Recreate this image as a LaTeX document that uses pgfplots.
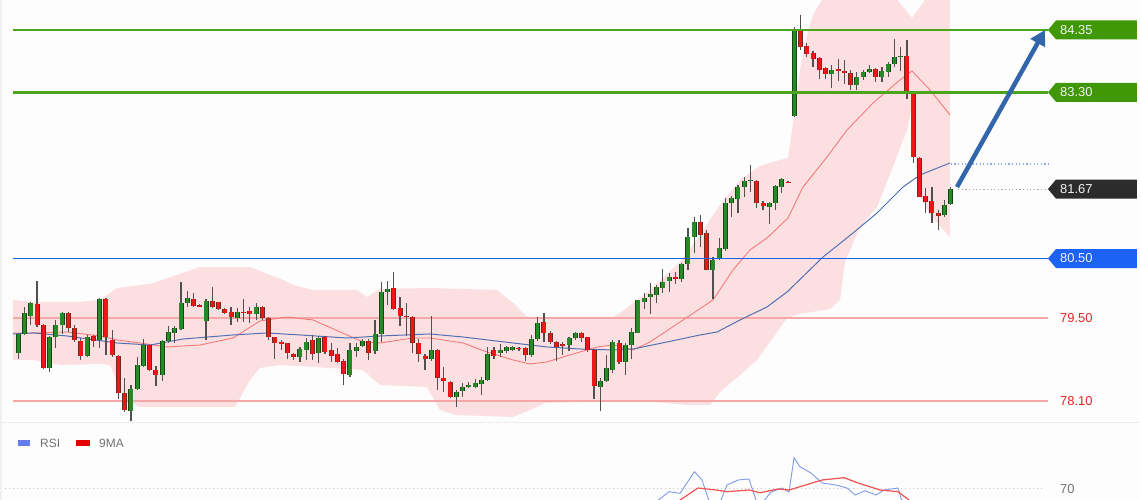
\documentclass[border=0pt]{standalone}
\usepackage{fontspec}
\setmainfont{Liberation Sans}
\usepackage{pgfplots}
\pgfplotsset{compat=1.18}
\usepackage{pgfplotstable}
\usetikzlibrary{arrows.meta}

\definecolor{cgreen}{RGB}{38,138,38}
\definecolor{cgreenD}{RGB}{22,72,22}
\definecolor{cred}{RGB}{240,22,22}
\definecolor{credD}{RGB}{110,40,40}
\definecolor{cwick}{RGB}{80,80,80}
\definecolor{bandpink}{RGB}{252,224,225}
\definecolor{maRed}{RGB}{244,122,122}
\definecolor{maBlue}{RGB}{82,112,178}
\definecolor{lvGreen}{RGB}{76,166,28}
\definecolor{tagGreen}{RGB}{64,152,6}
\definecolor{lvBlue}{RGB}{30,96,240}
\definecolor{tagBlue}{RGB}{28,98,245}
\definecolor{lvRed}{RGB}{246,168,168}
\definecolor{txtRed}{RGB}{232,36,36}
\definecolor{tagDark}{RGB}{44,44,44}
\definecolor{arrBlue}{RGB}{50,102,170}
\definecolor{rsiBlue}{RGB}{125,155,232}
\definecolor{rsiRed}{RGB}{240,82,82}
\definecolor{bg}{RGB}{253,253,253}
\definecolor{txtGray}{RGB}{115,115,115}

\pgfplotstableread{
i o h l c
0 78.914 79.251 78.802 79.228
1 79.228 79.689 79.212 79.577
2 79.532 79.773 79.380 79.745
3 79.728 80.127 79.352 79.380
4 79.380 79.390 78.633 78.650
5 78.650 79.195 78.594 79.184
6 79.172 79.464 78.987 79.380
7 79.380 79.605 79.228 79.588
8 79.588 79.605 79.268 79.324
9 79.324 79.380 79.099 79.127
10 79.116 79.155 78.790 78.863
11 78.863 79.212 78.847 79.172
12 79.195 79.212 79.004 79.116
13 79.127 79.829 78.987 79.812
14 79.812 79.829 78.875 79.184
15 79.127 79.296 78.847 78.875
16 78.858 78.875 78.128 78.229
17 78.229 78.482 77.920 77.948
18 77.937 78.369 77.769 78.296
19 78.296 78.847 78.285 78.706
20 78.689 79.139 78.667 79.043
21 79.043 79.050 78.611 78.622
22 78.622 78.689 78.353 78.538
23 78.538 79.127 78.442 79.111
24 79.111 79.363 79.082 79.268
25 79.251 79.363 79.071 79.324
26 79.307 80.110 79.300 79.756
27 79.756 79.958 79.678 79.829
28 79.812 79.913 79.678 79.700
29 79.720 79.730 79.680 79.690
30 79.447 79.812 79.127 79.784
31 79.790 80.026 79.661 79.689
32 79.762 79.773 79.633 79.644
33 79.644 79.661 79.565 79.588
34 79.605 79.689 79.380 79.509
35 79.492 79.661 79.436 79.605
36 79.605 79.812 79.436 79.580
37 79.622 79.689 79.408 79.565
38 79.565 79.745 79.464 79.678
39 79.689 79.700 79.464 79.492
40 79.492 79.509 79.127 79.172
41 79.172 79.184 78.802 79.082
42 79.099 79.127 78.959 79.060
43 79.071 79.071 78.802 78.914
44 78.892 78.914 78.790 78.847
45 78.847 79.015 78.762 78.970
46 78.959 79.155 78.790 79.099
47 79.127 79.212 78.790 78.892
48 78.903 79.195 78.734 79.155
49 79.172 79.195 78.892 78.931
50 78.959 79.071 78.762 78.858
51 78.886 78.987 78.734 78.762
52 78.779 78.802 78.369 78.555
53 78.538 79.082 78.510 78.959
54 78.948 79.071 78.847 79.015
55 79.026 79.139 79.004 79.111
56 79.116 79.139 78.790 78.914
57 78.948 79.464 78.892 79.228
58 79.228 80.110 79.099 79.942
59 79.936 80.127 79.717 79.981
60 79.998 80.278 79.633 79.644
61 79.661 79.846 79.363 79.532
62 79.535 79.756 79.195 79.509
63 79.520 79.532 78.914 79.071
64 79.071 79.139 78.762 78.886
65 78.858 78.892 78.622 78.802
66 78.802 79.532 78.779 78.959
67 78.959 78.970 78.285 78.482
68 78.482 78.667 78.257 78.442
69 78.426 78.442 78.145 78.162
70 78.162 78.285 78.004 78.257
71 78.268 78.409 78.173 78.341
72 78.341 78.426 78.313 78.369
73 78.330 78.465 78.313 78.397
74 78.386 78.510 78.201 78.454
75 78.454 79.015 78.442 78.892
76 78.959 79.004 78.802 78.858
77 78.903 79.060 78.847 78.959
78 78.948 79.026 78.903 79.004
79 78.959 79.026 78.948 79.004
80 78.998 79.015 78.948 78.970
81 78.987 79.015 78.779 78.875
82 78.875 79.212 78.847 79.139
83 79.139 79.520 79.116 79.419
84 79.436 79.577 79.099 79.251
85 79.251 79.285 79.060 79.099
86 79.099 79.116 78.779 79.004
87 79.060 79.099 78.875 79.026
88 79.043 79.172 78.948 79.155
89 79.155 79.268 79.127 79.251
90 79.251 79.268 79.099 79.155
91 79.172 79.184 78.931 78.959
92 78.959 78.970 78.128 78.353
93 78.341 78.482 77.937 78.442
94 78.442 78.875 78.426 78.650
95 78.622 79.127 78.566 79.099
96 79.083 79.128 78.724 78.763
97 78.763 79.072 78.538 79.044
98 79.044 79.324 78.802 79.268
99 79.251 79.802 79.240 79.802
100 79.774 79.925 79.644 79.830
101 79.858 80.082 79.566 79.897
102 79.886 80.054 79.746 80.026
103 80.000 80.318 79.914 80.110
104 80.127 80.251 79.942 80.183
105 80.183 80.279 80.071 80.150
106 80.150 80.431 80.110 80.408
107 80.408 81.009 80.307 80.869
108 80.869 81.206 80.588 81.121
109 81.121 81.234 80.689 80.897
110 80.936 80.981 80.307 80.307
111 80.307 80.532 79.813 80.476
112 80.487 80.840 80.476 80.672
113 80.655 81.514 80.633 81.430
114 81.430 81.554 81.206 81.514
115 81.497 81.739 81.273 81.711
116 81.700 81.879 81.531 81.812
117 81.801 82.076 81.627 81.823
118 81.812 81.823 81.346 81.441
119 81.441 81.475 81.318 81.385
120 81.374 81.458 81.082 81.441
121 81.430 81.739 81.318 81.722
122 81.711 81.851 81.610 81.834
123 81.795 81.801 81.767 81.767
124 82.901 84.406 82.890 84.361
125 84.338 84.602 84.013 84.069
126 84.080 84.136 83.900 83.945
127 83.957 84.000 83.732 83.856
128 83.872 83.889 83.519 83.676
129 83.704 83.732 83.519 83.608
130 83.608 83.760 83.367 83.676
131 83.687 83.856 83.496 83.653
132 83.665 83.844 83.440 83.631
133 83.620 83.676 83.339 83.423
134 83.423 83.648 83.339 83.564
135 83.552 83.676 83.507 83.648
136 83.648 83.760 83.631 83.693
137 83.687 83.704 83.479 83.564
138 83.564 83.732 83.479 83.665
139 83.648 83.816 83.564 83.777
140 83.777 84.192 83.732 83.889
141 83.889 84.069 83.665 83.912
142 83.912 84.181 83.182 83.294
143 83.294 83.311 82.104 82.216
144 82.188 82.216 81.542 81.542
145 81.553 81.683 81.273 81.458
146 81.469 81.711 81.104 81.261
147 81.261 81.317 80.981 81.216
148 81.233 81.486 81.205 81.402
149 81.419 81.711 81.402 81.666
}\candles

\newcommand\tagfont{\fontsize{13}{15}\selectfont}

\begin{document}
\begin{tikzpicture}[x=1bp,y=1bp]
\path[use as bounding box, fill=bg] (0bp,0bp) rectangle (1140bp,500bp);

\begin{axis}[at={(0bp,78bp)}, anchor=south west, scale only axis,
  width=1140bp, height=422bp,
  xmin=-2.924, xmax=179.24, ymin=77.746, ymax=84.855,
  hide axis, clip=true]

% Bollinger band
\addplot[fill=bandpink, draw=none, forget plot] coordinates {
 (-0.85,79.802) (2.35,79.768) (9.86,79.768) (13.06,79.802) (15.77,80.004)
 (21.05,80.071) (29.03,80.357) (37.03,80.357) (42.3,80.138) (43.9,80.054)
 (47.09,79.970) (54.12,79.970) (55.72,79.852) (57.80,79.987) (65.79,80.004)
 (76.50,79.970) (79.05,79.751) (81.29,79.515) (95.03,79.515) (96.15,79.583)
 (100.95,79.970) (105.74,80.442) (108.93,80.897) (112.13,81.402) (115.33,81.823)
 (118.52,82.059) (121.72,82.160) (123.0,82.194) (124.0,82.918) (124.91,83.676)
 (126.03,84.265) (126.99,84.603) (128.11,84.805) (129.23,84.940) (132.91,85.36)
 (137.70,85.36) (140.09,84.906) (142.81,84.552) (144.89,84.855) (148.88,85.53)
 (148.88,80.863) (145.69,81.234) (143.77,81.600) (142.81,83.087) (142.01,82.665)
 (139.77,82.042) (137.22,81.368) (134.5,81.031) (132.11,80.442) (131.31,79.802)
 (129.71,79.650) (124.91,79.566) (122.84,79.498) (120.92,79.212) (118.04,78.791)
 (115.33,78.538) (112.13,78.251) (110.53,78.032) (106.86,78.032) (98.23,78.117)
 (95.03,78.100) (84.17,78.066) (81.77,77.948) (79.05,77.830) (69.78,77.864)
 (67.39,77.948) (65.31,78.336) (57.80,78.370) (56.52,78.487) (55.08,78.622)
 (41.82,78.707) (38.62,78.656) (37.03,78.454) (34.63,77.999) (19.45,77.999)
 (17.05,78.117) (14.65,78.707) (13.06,78.724) (6.66,78.707) (2.35,78.791)
 (-0.85,78.791)
} -- cycle;

% support / resistance (red)
\addplot[lvRed, line width=1.8bp] coordinates {(-0.85,79.50) (164.54,79.50)};
\addplot[lvRed, line width=1.8bp] coordinates {(-0.85,78.10) (164.54,78.10)};

% moving averages
\addplot[maRed, line width=0.9bp] coordinates {
 (-0.85,79.246) (2.35,79.246) (7.78,79.262) (13.06,79.195) (15.77,79.128)
 (19.45,79.077) (23.76,79.010) (29.03,79.043) (34.31,79.161) (38.62,79.448)
 (42.94,79.515) (47.09,79.465) (52.53,79.212) (55.08,79.094) (57.80,79.077)
 (63.07,79.161) (65.79,79.161) (71.06,79.077) (74.90,78.926) (79.05,78.791)
 (81.77,78.724) (84.48,78.757) (87.04,78.841) (89.76,78.926) (92.48,79.010)
 (95.03,79.043) (98.23,78.959) (100.95,79.094) (106.22,79.465) (111.01,79.802)
 (114.21,80.307) (116.92,80.644) (119.64,80.846) (123.0,81.183) (125.39,81.705)
 (129.23,82.211) (132.43,82.665) (136.58,83.120) (140.89,83.508) (142.81,83.659)
 (145.69,83.339) (148.88,82.918)};
\addplot[maBlue, line width=1bp] coordinates {
 (-0.85,79.229) (2.35,79.246) (7.78,79.195) (15.77,79.077) (21.05,79.043)
 (26.32,79.144) (34.31,79.212) (39.74,79.246) (45.02,79.212) (52.53,79.161)
 (57.80,79.195) (65.79,79.229) (71.06,79.178) (79.05,79.077) (84.48,79.010)
 (89.76,78.976) (95.03,78.959) (98.23,78.976) (103.66,79.094) (108.93,79.212)
 (111.65,79.262) (115.33,79.465) (119.64,79.684) (122.84,79.936) (128.59,80.526)
 (133.39,80.930) (137.22,81.267) (141.37,81.705) (144.09,81.907) (148.88,82.109)};

% wicks
\addplot[draw=none, mark=none, forget plot,
  error bars/.cd, y dir=plus, y explicit, error mark=none,
  error bar style={draw=cwick, line width=1.2bp}]
  table[x=i, y=l, y error plus expr=\thisrow{h}-\thisrow{l}] {\candles};
% rising bodies: outline then fill
\addplot[draw=none, mark=none, forget plot,
  x filter/.expression={\thisrow{c}>=\thisrow{o} ? x : nan},
  error bars/.cd, y dir=plus, y explicit, error mark=none,
  error bar style={draw=cgreenD, line width=5bp}]
  table[x=i, y=o, y error plus expr=\thisrow{c}-\thisrow{o}] {\candles};
\addplot[draw=none, mark=none, forget plot,
  x filter/.expression={\thisrow{c}>=\thisrow{o} ? x : nan},
  error bars/.cd, y dir=plus, y explicit, error mark=none,
  error bar style={draw=cgreen, line width=3.4bp}]
  table[x=i, y=o, y error plus expr=\thisrow{c}-\thisrow{o}] {\candles};
% falling bodies: outline then fill
\addplot[draw=none, mark=none, forget plot,
  x filter/.expression={\thisrow{c}<\thisrow{o} ? x : nan},
  error bars/.cd, y dir=plus, y explicit, error mark=none,
  error bar style={draw=credD, line width=5bp}]
  table[x=i, y=c, y error plus expr=\thisrow{o}-\thisrow{c}] {\candles};
\addplot[draw=none, mark=none, forget plot,
  x filter/.expression={\thisrow{c}<\thisrow{o} ? x : nan},
  error bars/.cd, y dir=plus, y explicit, error mark=none,
  error bar style={draw=cred, line width=3.4bp}]
  table[x=i, y=c, y error plus expr=\thisrow{o}-\thisrow{c}] {\candles};

% levels on top
\addplot[lvGreen, line width=2.6bp] coordinates {(-0.85,84.35) (164.54,84.35)};
\addplot[lvGreen, line width=2.6bp] coordinates {(-0.85,83.30) (164.54,83.30)};
\addplot[lvBlue, line width=1.3bp] coordinates {(-0.85,80.50) (164.54,80.50)};
\addplot[gray!70, line width=1.1bp, dash pattern=on 1.2bp off 2.4bp] coordinates {(150.2,81.67) (164.54,81.67)};
\addplot[rsiBlue!85, line width=1.1bp, dash pattern=on 1.2bp off 2.4bp] coordinates {(149,82.093) (164.54,82.093)};

% arrow
\draw[arrBlue, line width=4.5bp, -{Triangle[length=15bp,width=16bp]}]
  (axis cs:150.0,81.705) -- (axis cs:164.06,84.35);

% price tags
\fill[tagGreen] (axis cs:164.54,84.35) -- ++(8bp,9.5bp) -- ++(81bp,0bp) -- ++(0bp,-19bp) -- ++(-81bp,0bp) -- cycle;
\fill[tagGreen] (axis cs:164.54,83.30) -- ++(8bp,9.5bp) -- ++(81bp,0bp) -- ++(0bp,-19bp) -- ++(-81bp,0bp) -- cycle;
\fill[tagDark] (axis cs:164.54,81.67) -- ++(8bp,9.5bp) -- ++(81bp,0bp) -- ++(0bp,-19bp) -- ++(-81bp,0bp) -- cycle;
\fill[tagBlue] (axis cs:164.54,80.50) -- ++(8bp,9.5bp) -- ++(81bp,0bp) -- ++(0bp,-19bp) -- ++(-81bp,0bp) -- cycle;
\node[anchor=west, inner sep=0, text=white!92!gray, font=\tagfont] at (axis cs:166.46,84.35) {84.35};
\node[anchor=west, inner sep=0, text=white!92!gray, font=\tagfont] at (axis cs:166.46,83.30) {83.30};
\node[anchor=west, inner sep=0, text=white!90!gray, font=\tagfont] at (axis cs:166.46,81.67) {81.67};
\node[anchor=west, inner sep=0, text=white!92!gray, font=\tagfont] at (axis cs:166.46,80.50) {80.50};
\node[anchor=west, inner sep=0, text=txtRed, font=\tagfont] at (axis cs:166.46,79.50) {79.50};
\node[anchor=west, inner sep=0, text=txtRed, font=\tagfont] at (axis cs:166.46,78.10) {78.10};
\end{axis}

\begin{axis}[at={(0bp,0bp)}, anchor=south west, scale only axis,
  width=1140bp, height=78bp,
  xmin=-2.924, xmax=179.24, ymin=66.452, ymax=91.61,
  hide axis, clip=true]
\addplot[gray!45, line width=1bp, dash pattern=on 1bp off 3bp] coordinates {(-2.125,70) (164.06,70)};
\addplot[rsiBlue, line width=0.9bp] coordinates {
 (99.5,62) (103.98,69.13) (105.74,68.6) (108.05,75.58) (109.25,72.9) (110.9,63)
 (111.6,63) (113.25,71.29) (115.01,72.9) (116.76,73.23) (118.3,64) (120.28,69.03)
 (122.04,70.32) (123.16,69.03) (123.96,80.1) (124.91,77.19) (126.67,75.16)
 (128.43,71.94) (130.67,71.29) (132.43,70.32) (133.71,68.06) (135.3,69.45)
 (137.06,68.06) (138.34,69.68) (140.58,70.32) (141.8,62)};
\addplot[rsiRed, line width=1.2bp] coordinates {
 (102.5,62) (108.61,70.32) (111.49,69.68) (113.25,69.13) (116.76,69.68)
 (118.52,68.8) (121.4,70.0) (123.16,69.68) (124.91,70.74) (128.43,72.9)
 (131.95,73.65) (134.18,71.94) (137.7,69.68) (140.58,69.13) (142.33,66.45) (143,63)};
\node[anchor=west, inner sep=0, text=txtGray, font=\tagfont] at (axis cs:166.46,70) {70};
\end{axis}

% panel separator and border
\draw[gray!25, line width=0.8bp, dash pattern=on 1bp off 1bp] (0bp,78bp) -- (1140bp,78bp);
\draw[gray!12, line width=1.5bp] (0.75bp,0bp) -- (0.75bp,500bp);

% RSI legend
\fill[rsiBlue!80!blue] (18bp,54bp) rectangle (30bp,60bp);
\node[anchor=west, inner sep=0, text=txtGray, font=\fontsize{12}{14}\selectfont] at (40bp,57bp) {RSI};
\fill[red!90!black] (76bp,54bp) rectangle (90bp,60bp);
\node[anchor=west, inner sep=0, text=txtGray, font=\fontsize{12}{14}\selectfont] at (99bp,57bp) {9MA};
\end{tikzpicture}
\end{document}
